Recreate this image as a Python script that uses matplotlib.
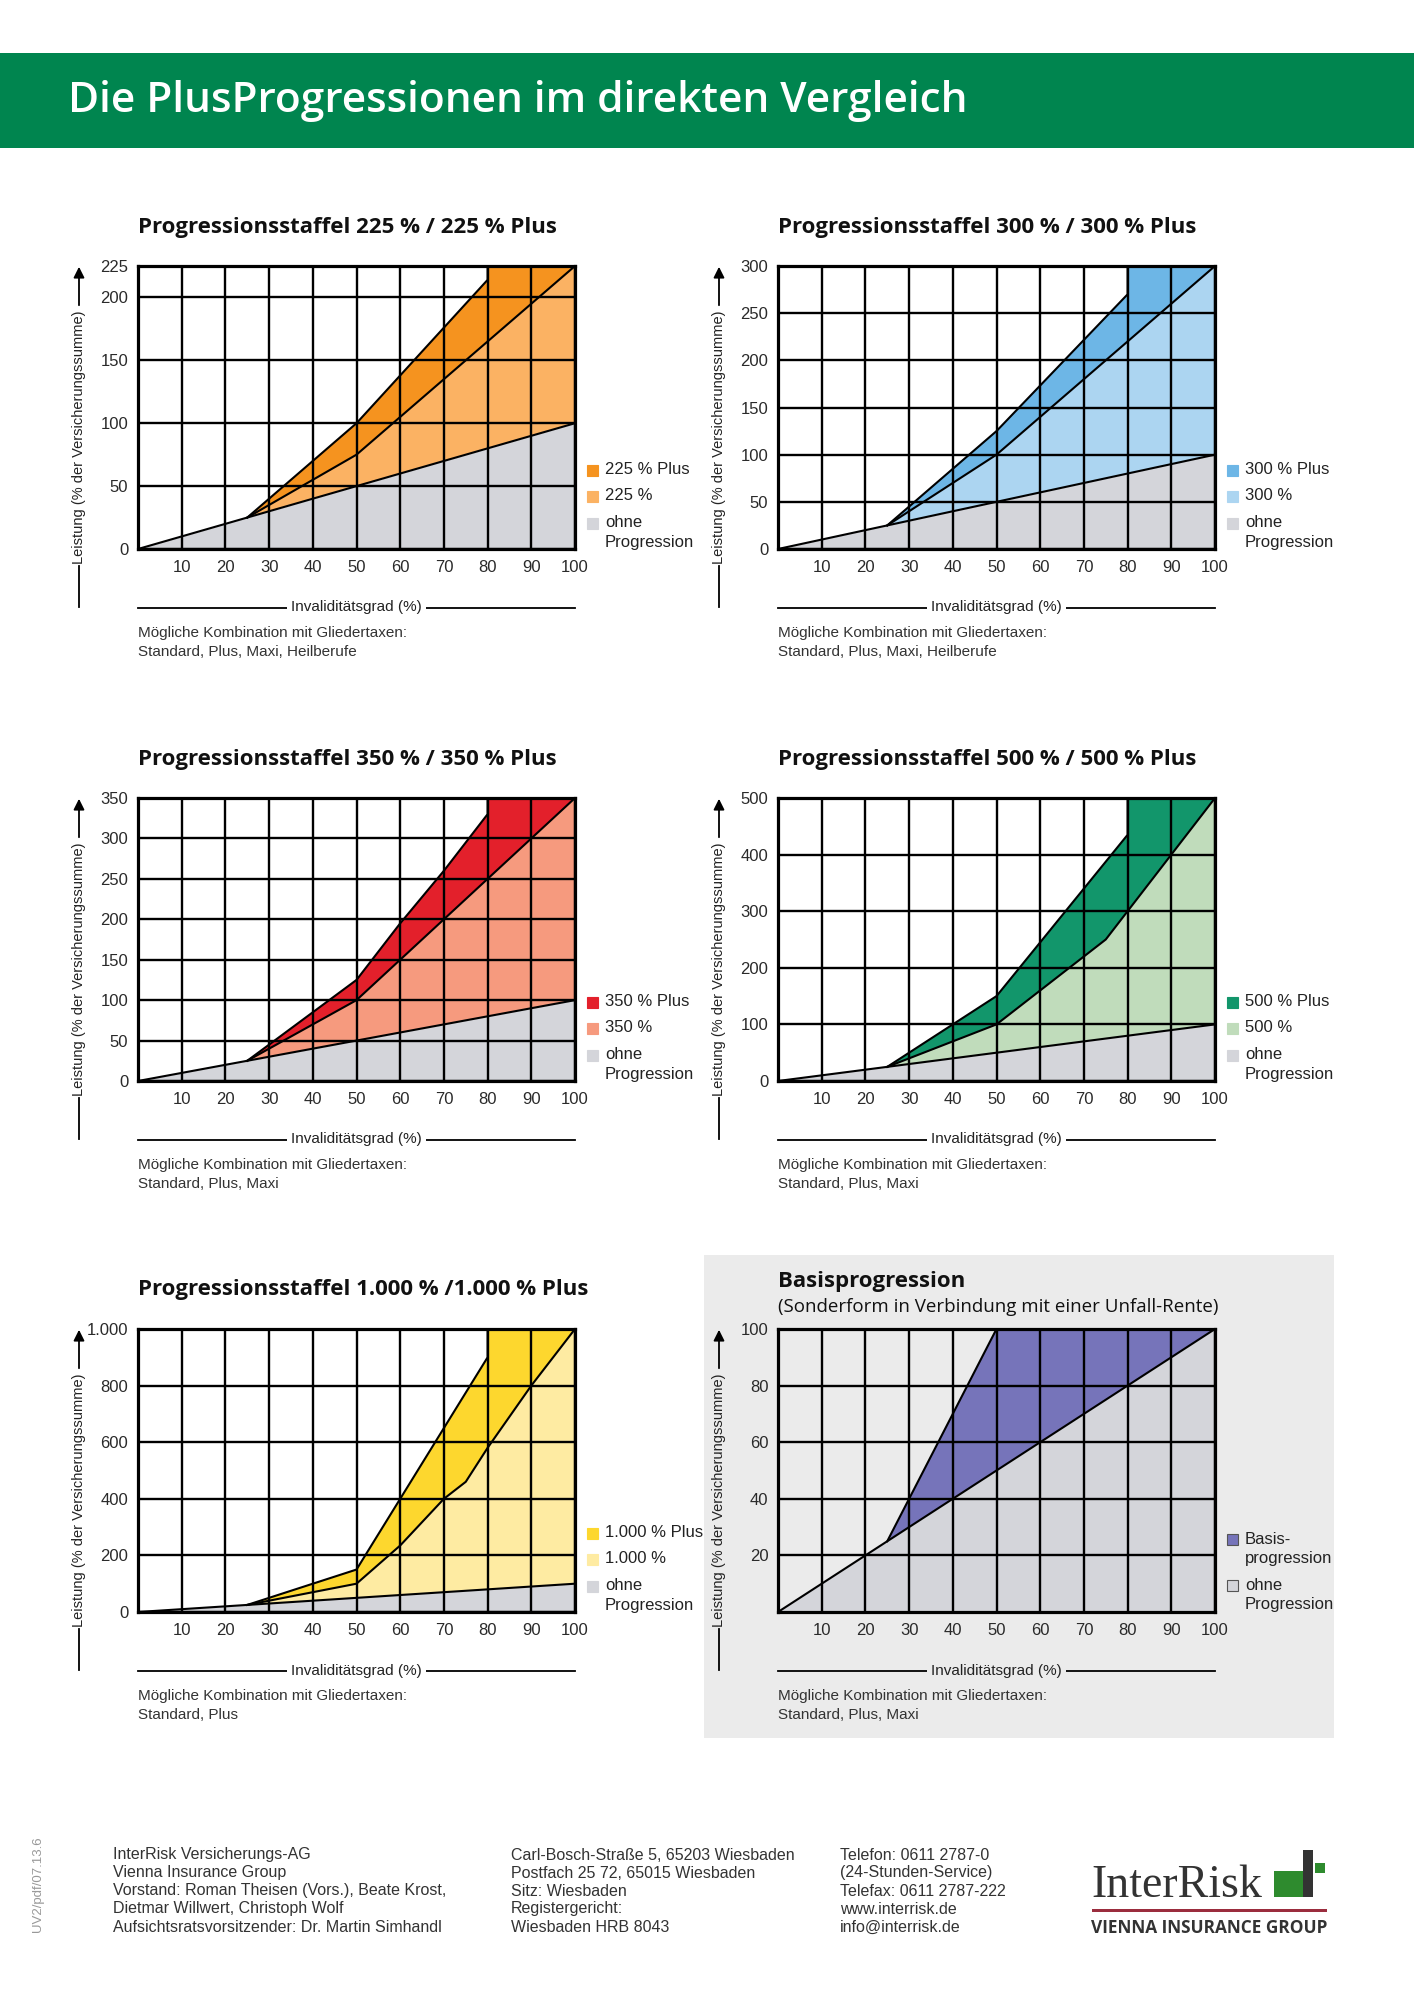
import numpy as np
import matplotlib
matplotlib.use('Agg')
import matplotlib.pyplot as plt
from matplotlib.patches import Rectangle, FancyArrowPatch
from matplotlib.lines import Line2D

W, H = 1414, 2000
AW, AH = 437, 283          # axes size in px
GRAY = '#d4d5da'
BOX = '#ebebeb'
NARROW = ['Liberation Sans', 'DejaVu Sans']
plt.rcParams['font.family'] = NARROW

# ---- data ----
x_ticks = [10, 20, 30, 40, 50, 60, 70, 80, 90, 100]
x_ohne = [0, 25, 100]
y_ohne = [0, 25, 100]

x_225 = [25, 50, 100]
y_225 = [25, 75, 225]
x_225p = [25, 50, 80, 80, 100]
y_225p = [25, 100, 214, 225, 225]
yt_225 = [0, 50, 100, 150, 200, 225]

x_300 = [25, 50, 100]
y_300 = [25, 100, 300]
x_300p = [25, 50, 80, 80, 100]
y_300p = [25, 125, 270, 300, 300]
yt_300 = [0, 50, 100, 150, 200, 250, 300]

x_350 = [25, 50, 100]
y_350 = [25, 100, 350]
x_350p = [25, 50, 60, 70, 80, 80, 100]
y_350p = [25, 125, 195, 260, 330, 350, 350]
yt_350 = [0, 50, 100, 150, 200, 250, 300, 350]

x_500 = [25, 50, 75, 100]
y_500 = [25, 100, 250, 500]
x_500p = [25, 50, 80, 80, 100]
y_500p = [25, 150, 435, 500, 500]
yt_500 = [0, 100, 200, 300, 400, 500]

x_1000 = [25, 50, 60, 70, 75, 80, 90, 100]
y_1000 = [25, 100, 235, 400, 460, 580, 800, 1000]
x_1000p = [25, 50, 80, 80, 100]
y_1000p = [25, 150, 900, 1000, 1000]
yt_1000 = [0, 200, 400, 600, 800, 1000]
yl_1000 = ['0', '200', '400', '600', '800', '1.000']

x_basis = [25, 30, 50, 100]
y_basis = [25, 40, 100, 100]
yt_basis = [20, 40, 60, 80, 100]

fig = plt.figure(figsize=(W / 100, H / 100), dpi=100)


def fx(x):
    return x / W


def fy(y):
    return 1 - y / H


def band(ax, xu, yu, xl, yl, color):
    ax.fill(list(xu) + list(xl)[::-1], list(yu) + list(yl)[::-1],
            color=color, lw=0, zorder=1)


def chart(left, top, title, yticks, ylabels, std, plus, colors, names, note,
          bg='white', subtitle=None):
    ax = fig.add_axes([fx(left), fy(top + AH), AW / W, AH / H])
    ax.set_facecolor(bg)
    ymax = yticks[-1]
    ax.set_xlim(0, 100)
    ax.set_ylim(0, ymax)
    ax.set_xticks(x_ticks)
    ax.set_yticks(yticks)
    ax.set_yticklabels(ylabels if ylabels else [str(v) for v in yticks])
    ax.tick_params(length=0, labelsize=12, labelcolor='#2a2a2a')
    ax.tick_params(axis='y', pad=7)
    ax.tick_params(axis='x', pad=8)
    ax.grid(True, color='black', lw=1.7)
    ax.set_axisbelow(False)
    for s in ax.spines.values():
        s.set_linewidth(2.3)

    ax.fill_between(x_ohne, 0, y_ohne, color=GRAY, lw=0, zorder=1)
    band(ax, std[0], std[1], x_ohne[1:], y_ohne[1:], colors[1])
    if plus is not None:
        band(ax, plus[0], plus[1], std[0], std[1], colors[0])
        ax.plot(plus[0], plus[1], color='black', lw=1.5, zorder=3)
    ax.plot(std[0], std[1], color='black', lw=1.5, zorder=3)
    ax.plot(x_ohne, y_ohne, color='black', lw=1.5, zorder=3)

    right, bottom = left + AW, top + AH
    # titles
    if subtitle:
        fig.text(fx(left), fy(top - 48), title, family='Open Sans', weight='bold',
                 fontsize=16, va='center', color='#111111')
        fig.text(fx(left), fy(top - 22), subtitle, family='Open Sans',
                 fontsize=13.5, va='center', color='#111111')
    else:
        fig.text(fx(left), fy(top - 39), title, family='Open Sans', weight='bold',
                 fontsize=16, va='center', color='#111111')

    # y label with arrow
    xl = left - 59
    fig.text(fx(xl), fy(top + 171), 'Leistung (% der Versicherungssumme)',
             rotation=90, ha='center', va='center', fontsize=10.5, color='#222222')
    fig.add_artist(Line2D([fx(xl), fx(xl)], [fy(top + 341), fy(top + 300)],
                          transform=fig.transFigure, color='black', lw=1.3))
    fig.add_artist(FancyArrowPatch((fx(xl), fy(top + 42)), (fx(xl), fy(top - 2)),
                                   transform=fig.transFigure, arrowstyle='-|>',
                                   mutation_scale=16, lw=1.3, color='black'))

    # x label with line
    yx = bottom + 58.5
    fig.add_artist(Line2D([fx(left), fx(right)], [fy(yx), fy(yx)],
                          transform=fig.transFigure, color='black', lw=1.3))
    fig.text(fx(left + AW / 2), fy(yx), 'Invaliditätsgrad (%)', ha='center',
             va='center', fontsize=11, color='#222222',
             bbox=dict(boxstyle='square,pad=0.3', fc=bg, ec='none'))

    fig.text(fx(left), fy(bottom + 84), 'Mögliche Kombination mit Gliedertaxen:',
             va='center', fontsize=11, color='#333333')
    fig.text(fx(left), fy(bottom + 103), note, va='center', fontsize=11, color='#333333')

    # legend
    for lines, color, dy in names:
        y = bottom - dy
        fig.add_artist(Rectangle((fx(right + 12), fy(y + 6)), 11 / W, 11 / H,
                                 transform=fig.transFigure, fc=color,
                                 ec='#555555' if bg != 'white' else color, lw=0.8))
        for i, line in enumerate(lines):
            fig.text(fx(right + 30), fy(y + i * 20), line, va='center',
                     fontsize=12, color='#222222')
    return ax


# header band
fig.add_artist(Rectangle((0, fy(148)), 1, 94.5 / H, transform=fig.transFigure,
                         fc='#00854f', ec='none'))
fig.text(fx(68), fy(101), 'Die PlusProgressionen im direkten Vergleich',
         family='Open Sans', weight='semibold', fontsize=30.5, color='white', va='center')

# grey box behind Basisprogression
fig.add_artist(Rectangle((fx(704), fy(1738)), 630 / W, 483 / H, transform=fig.transFigure,
                         fc=BOX, ec='none', zorder=-1))

L1, L2 = 138, 778
T1, T2, T3 = 266, 798, 1329


def leg(plus_name, std_name, c):
    return [([plus_name], c[0], 79.5), ([std_name], c[1], 53.5),
            (['ohne', 'Progression'], GRAY, 26.5)]


c = ['#f5931f', '#fbb263']
chart(L1, T1, 'Progressionsstaffel 225 % / 225 % Plus', yt_225, None,
      (x_225, y_225), (x_225p, y_225p), c, leg('225 % Plus', '225 %', c),
      'Standard, Plus, Maxi, Heilberufe')
c = ['#6db6e6', '#acd5f1']
chart(L2, T1, 'Progressionsstaffel 300 % / 300 % Plus', yt_300, None,
      (x_300, y_300), (x_300p, y_300p), c, leg('300 % Plus', '300 %', c),
      'Standard, Plus, Maxi, Heilberufe')
c = ['#e3202b', '#f69a7e']
chart(L1, T2, 'Progressionsstaffel 350 % / 350 % Plus', yt_350, None,
      (x_350, y_350), (x_350p, y_350p), c, leg('350 % Plus', '350 %', c),
      'Standard, Plus, Maxi')
c = ['#12966b', '#c0dcbb']
chart(L2, T2, 'Progressionsstaffel 500 % / 500 % Plus', yt_500, None,
      (x_500, y_500), (x_500p, y_500p), c, leg('500 % Plus', '500 %', c),
      'Standard, Plus, Maxi')
c = ['#fdd72e', '#feeba2']
chart(L1, T3, 'Progressionsstaffel 1.000 % /1.000 % Plus', yt_1000, yl_1000,
      (x_1000, y_1000), (x_1000p, y_1000p), c, leg('1.000 % Plus', '1.000 %', c),
      'Standard, Plus')
chart(L2, T3, 'Basisprogression', yt_basis, None,
      (x_basis, y_basis), None, [None, '#7674ba'],
      [(['Basis-', 'progression'], '#7674ba', 73), (['ohne', 'Progression'], GRAY, 27)],
      'Standard, Plus, Maxi', bg=BOX,
      subtitle='(Sonderform in Verbindung mit einer Unfall-Rente)')

# footer
col1 = ['InterRisk Versicherungs-AG', 'Vienna Insurance Group',
        'Vorstand: Roman Theisen (Vors.), Beate Krost,',
        'Dietmar Willwert, Christoph Wolf',
        'Aufsichtsratsvorsitzender: Dr. Martin Simhandl']
col2 = ['Carl-Bosch-Straße 5, 65203 Wiesbaden', 'Postfach 25 72, 65015 Wiesbaden',
        'Sitz: Wiesbaden', 'Registergericht:', 'Wiesbaden HRB 8043']
col3 = ['Telefon: 0611 2787-0', '(24-Stunden-Service)', 'Telefax: 0611 2787-222',
        'www.interrisk.de', 'info@interrisk.de']
for xc, col in [(113, col1), (511, col2), (840, col3)]:
    for i, line in enumerate(col):
        fig.text(fx(xc), fy(1855 + i * 18), line, va='center', fontsize=11.5,
                 color='#333333')
fig.text(fx(38), fy(1884), 'UV2/pdf/07.13.6', rotation=90, ha='center', va='center',
         fontsize=9.5, color='#999999')

# logo
fig.text(fx(1091), fy(1897), 'InterRisk', family='Liberation Serif', fontsize=33,
         color='#333333', va='baseline')
fig.add_artist(Rectangle((fx(1274), fy(1897)), 29 / W, 26 / H, transform=fig.transFigure,
                         fc='#2e8b2e', ec='none'))
fig.add_artist(Rectangle((fx(1303), fy(1897)), 9.5 / W, 47 / H, transform=fig.transFigure,
                         fc='#333333', ec='none'))
fig.add_artist(Rectangle((fx(1315), fy(1873)), 10 / W, 10 / H, transform=fig.transFigure,
                         fc='#2e8b2e', ec='none'))
fig.add_artist(Rectangle((fx(1092), fy(1912)), 235 / W, 3 / H, transform=fig.transFigure,
                         fc='#9b2d3e', ec='none'))
fig.text(fx(1091), fy(1928), 'VIENNA INSURANCE GROUP', family='Open Sans', weight='bold',
         fontsize=12.4, color='#333333', va='center')

fig.savefig('out.png', dpi=100)
